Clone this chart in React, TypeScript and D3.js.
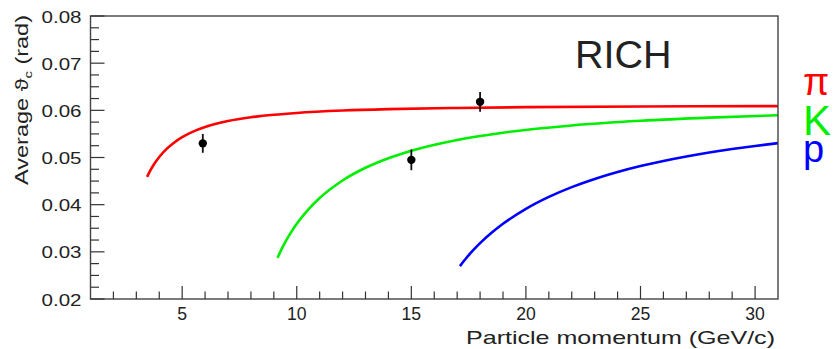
import React from "react";
import * as d3 from "d3";

const pionP = [3.47, 3.6, 3.8, 4.0, 4.3, 4.6, 5, 5.5, 6, 7, 8, 9, 10, 12, 14, 17, 20, 25, 31];
const pionTheta = [0.0459, 0.04717, 0.04878, 0.05011, 0.05172, 0.05299, 0.05431, 0.05554, 0.05646, 0.05772, 0.05852, 0.05906, 0.05945, 0.05995, 0.06025, 0.06051, 0.06067, 0.06081, 0.0609];

const kaonP = [9.16, 9.4, 9.7, 10, 10.5, 11, 12, 13, 14, 15, 17, 19, 22, 25, 28, 31];
const kaonTheta = [0.02871, 0.03115, 0.03374, 0.03594, 0.03896, 0.04141, 0.04513, 0.04782, 0.04985, 0.05144, 0.05372, 0.05526, 0.05679, 0.05778, 0.05846, 0.05895];

const protonP = [17.12, 17.4, 17.7, 18, 18.5, 19, 20, 21, 22, 23, 24, 25, 26, 27, 28, 29, 30, 31];
const protonTheta = [0.02697, 0.02869, 0.03034, 0.03184, 0.03403, 0.03594, 0.03911, 0.04164, 0.04372, 0.04545, 0.04692, 0.04818, 0.04927, 0.05022, 0.05106, 0.0518, 0.05245, 0.05304];

const dataP = [5.9, 15, 18];
const dataTheta = [0.0530, 0.0495, 0.0618];
const dataErr = [0.0020, 0.0022, 0.0021];

const xMajorTicks = [5, 10, 15, 20, 25, 30];
const yMajorTicks = [0.02, 0.03, 0.04, 0.05, 0.06, 0.07, 0.08];

const W = 837;
const H = 349;
const left = 90.5;
const right = 778;
const top = 16;
const bottom = 299;

export default function App() {
  const x = d3.scaleLinear().domain([1, 31]).range([left, right]);
  const y = d3.scaleLinear().domain([0.02, 0.08]).range([bottom, top]);

  const line = d3
    .line<[number, number]>()
    .x((d) => x(d[0]))
    .y((d) => y(d[1]))
    .curve(d3.curveMonotoneX);

  const series = [
    { p: pionP, t: pionTheta, color: "#ff0000" },
    { p: kaonP, t: kaonTheta, color: "#00ee00" },
    { p: protonP, t: protonTheta, color: "#0000ff" },
  ];

  const xMinor = d3.range(2, 31, 1).filter((v) => v % 5 !== 0);
  const yMinor = d3.range(0, 25).map((i) => 0.02 + i * 0.0025).filter((v, i) => i % 4 !== 0);

  const font = "'Liberation Sans', Arial, Helvetica, sans-serif";
  const textColor = "#222";

  return (
    <svg width={W} height={H} style={{ position: "absolute", left: 0, top: 0, background: "#fff" }}>
      {/* curves */}
      {series.map((s, i) => (
        <path
          key={i}
          d={line(s.p.map((v, j) => [v, s.t[j]] as [number, number])) || ""}
          fill="none"
          stroke={s.color}
          strokeWidth={2.6}
        />
      ))}

      {/* data points */}
      {dataP.map((p, i) => (
        <g key={i}>
          <line
            x1={x(p)}
            x2={x(p)}
            y1={y(dataTheta[i] - dataErr[i])}
            y2={y(dataTheta[i] + dataErr[i])}
            stroke="#111"
            strokeWidth={1.8}
          />
          <circle cx={x(p)} cy={y(dataTheta[i])} r={4.2} fill="#000" />
        </g>
      ))}

      {/* frame */}
      <rect x={left} y={top} width={right - left} height={bottom - top} fill="none" stroke="#444" strokeWidth={1.4} />

      {/* x ticks */}
      {xMajorTicks.map((v) => (
        <line key={"xM" + v} x1={x(v)} x2={x(v)} y1={bottom} y2={bottom - 13} stroke="#333" strokeWidth={1.2} />
      ))}
      {xMinor.map((v) => (
        <line key={"xm" + v} x1={x(v)} x2={x(v)} y1={bottom} y2={bottom - 7.5} stroke="#333" strokeWidth={1.2} />
      ))}
      {xMajorTicks.map((v) => (
        <text
          key={"xl" + v}
          x={x(v)}
          y={319.5}
          textAnchor="middle"
          fontFamily={font}
          fontSize={17.6}
          fill={textColor}
        >
          {v}
        </text>
      ))}

      {/* y ticks */}
      {yMajorTicks.map((v) => (
        <line key={"yM" + v} x1={left} x2={left + 14} y1={y(v)} y2={y(v)} stroke="#333" strokeWidth={1.2} />
      ))}
      {yMinor.map((v, i) => (
        <line key={"ym" + i} x1={left} x2={left + 8.5} y1={y(v)} y2={y(v)} stroke="#333" strokeWidth={1.2} />
      ))}
      {yMajorTicks.map((v) => (
        <text
          key={"yl" + v}
          x={81.5}
          y={y(v) + 6.5}
          textAnchor="end"
          fontFamily={font}
          fontSize={17.4}
          fill={textColor}
          textLength={40}
          lengthAdjust="spacingAndGlyphs"
        >
          {d3.format(".2f")(v)}
        </text>
      ))}

      {/* axis titles */}
      <text
        x={775}
        y={344}
        textAnchor="end"
        fontFamily={font}
        fontSize={19}
        fill={textColor}
        textLength={309}
        lengthAdjust="spacingAndGlyphs"
      >
        Particle momentum (GeV/c)
      </text>
      <text
        x={28}
        y={15}
        textAnchor="end"
        fontFamily={font}
        fontSize={17.5}
        fill={textColor}
        transform="rotate(-90, 28, 15)"
        textLength={170}
        lengthAdjust="spacingAndGlyphs"
      >
        Average ϑ
        <tspan fontSize={11} dy={4}>c</tspan>
        <tspan dy={-4}> (rad)</tspan>
      </text>

      {/* RICH label */}
      <text x={575} y={68.3} fontFamily={font} fontSize={39.5} fill={textColor}>
        RICH
      </text>

      {/* legend */}
      <text x={803} y={95} fontFamily={font} fontSize={38} fill="#ff0000">π</text>
      <text x={803} y={135} fontFamily={font} fontSize={42} fill="#00ee00">K</text>
      <text x={803} y={162} fontFamily={font} fontSize={38} fill="#0000ff">p</text>
    </svg>
  );
}
